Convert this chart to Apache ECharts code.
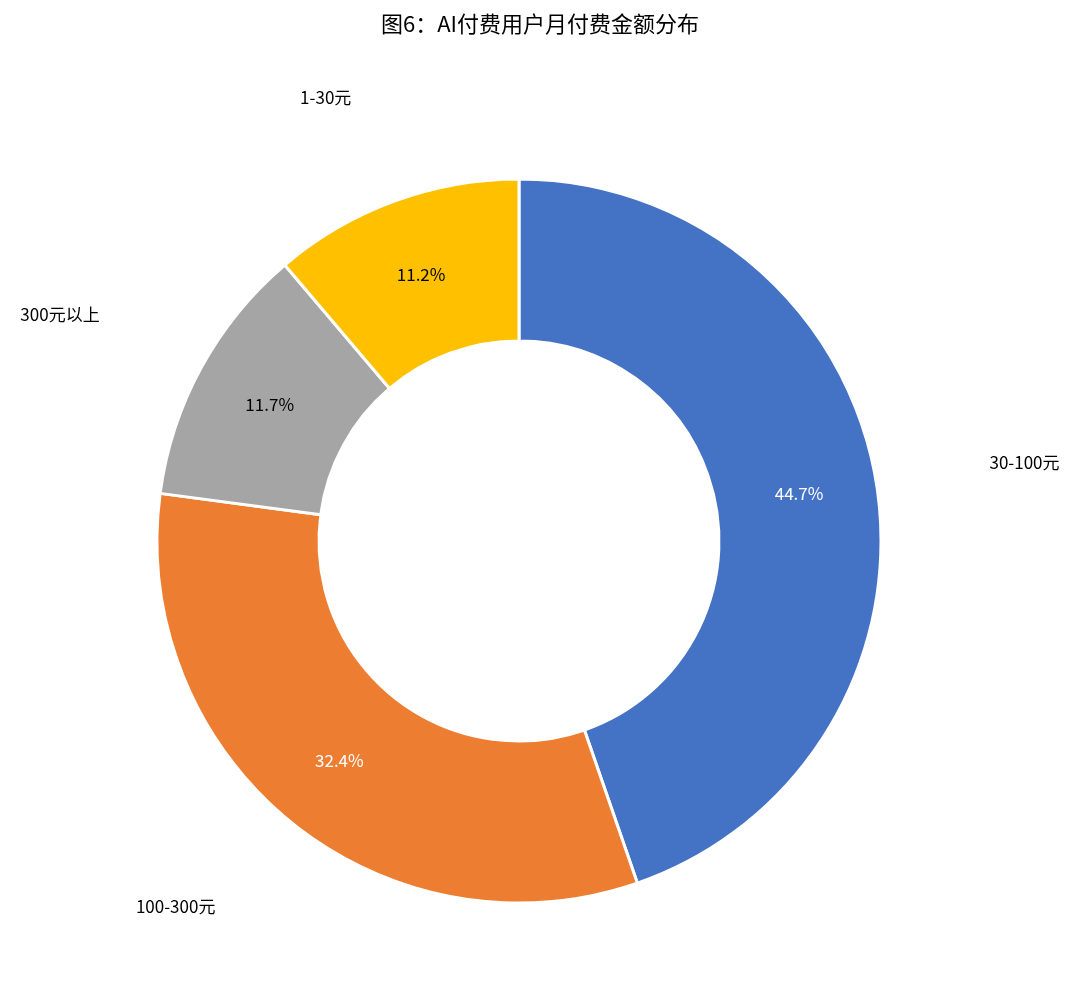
<!DOCTYPE html>
<html>
<head>
<meta charset="utf-8">
<script src="https://cdn.jsdelivr.net/npm/echarts@6/dist/echarts.min.js"></script>
<style>html,body{margin:0;padding:0;background:#fff}#main{width:1080px;height:995px}</style>
</head>
<body>
<div id="main"></div>
<script>
var categories = ['30-100元', '100-300元', '300元以上', '1-30元'];
var shares = [44.7, 32.4, 11.7, 11.2];
var colors = ['#4472C4', '#ED7D31', '#A5A5A5', '#FFC000'];
var insideText = ['#ffffff', '#ffffff', '#000000', '#000000'];

var chart = echarts.init(document.getElementById('main'));
var font = '"Noto Sans CJK SC", "Noto Sans", sans-serif';

var inner = categories.map(function (c, i) {
    return {
        name: c,
        value: shares[i],
        itemStyle: { color: colors[i] },
        label: { color: insideText[i] }
    };
});
var outer = categories.map(function (c, i) {
    return { name: c, value: shares[i] };
});

var option = {
    backgroundColor: '#ffffff',
    animation: false,
    title: {
        text: '图6：AI付费用户月付费金额分布',
        left: 'center',
        top: 8,
        textStyle: { fontFamily: font, fontSize: 22, fontWeight: 'normal', color: '#000' }
    },
    series: [{
        type: 'pie',
        center: [519, 541],
        radius: [200, 362],
        startAngle: 90,
        clockwise: true,
        itemStyle: { borderColor: '#fff', borderWidth: 3 },
        label: {
            position: 'inside',
            formatter: '{c}%',
            fontFamily: font,
            fontSize: 17
        },
        labelLine: { show: false },
        data: inner
    }, {
        type: 'pie',
        silent: true,
        center: [519, 541],
        radius: [200, 362],
        startAngle: 90,
        clockwise: true,
        itemStyle: { color: 'rgba(0,0,0,0)' },
        label: {
            position: 'outside',
            formatter: '{b}',
            fontFamily: font,
            fontSize: 17,
            color: '#000'
        },
        labelLine: { show: false, length: 110, length2: 0 },
        data: outer
    }]
};
chart.setOption(option);
</script>
</body>
</html>
